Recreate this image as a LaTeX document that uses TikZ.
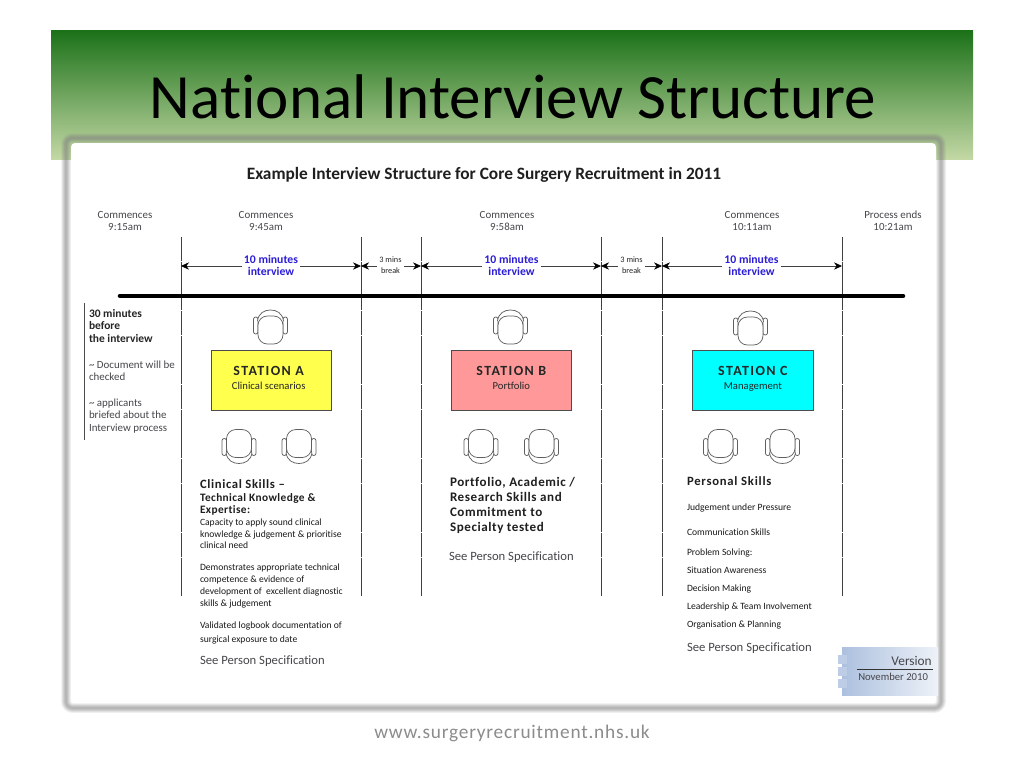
\documentclass[tikz,border=0pt]{standalone}
\usepackage{fontspec}
\setmainfont[Ligatures=NoCommon]{Carlito}
\usetikzlibrary{arrows.meta}
\newcommand{\fsz}[2]{\fontsize{#1}{#2}\selectfont}
\newcommand{\spaced}[1]{\addfontfeature{LetterSpace=#1}}
\newcommand{\stationtitle}{\bfseries\fsz{10.5}{11}\spaced{10}}
\definecolor{txtgray}{RGB}{70,70,75}
\definecolor{chairgray}{RGB}{95,95,95}
\definecolor{linkblue}{RGB}{45,30,215}
\definecolor{bandtop}{RGB}{27,113,24}
\definecolor{bandbot}{RGB}{195,216,165}
\definecolor{stya}{RGB}{255,255,77}
\definecolor{styb}{RGB}{255,153,153}
\definecolor{styc}{RGB}{0,255,255}
\definecolor{verl}{RGB}{172,192,222}
\definecolor{verr}{RGB}{238,242,248}
\definecolor{vertab}{RGB}{190,205,230}
\tikzset{
  x=0.75pt,y=-0.75pt,
  tl/.style={anchor=north west,inner sep=0pt,outer sep=0pt,align=left},
  tc/.style={anchor=center,inner sep=0pt,outer sep=0pt,align=center},
  when/.style={tc,text=txtgray,font=\fsz{8.2}{9.2}},
  bluelab/.style={tc,fill=white,inner xsep=1.5pt,inner ysep=0pt,text=linkblue,font=\bfseries\fsz{8.8}{9.6}},
  breaklab/.style={tc,fill=white,inner xsep=1.5pt,inner ysep=0pt,text=black!85,font=\fsz{6.2}{8.5}},
  stationbox/.style={draw=black!70,line width=0.8pt,minimum width=90.5pt,minimum height=45.5pt,inner sep=0pt,anchor=north west,align=center,text=black!85,text depth=3pt},
  bar/.style={draw=black!75,line width=0.75pt,dash pattern=on 18pt off 0.5pt},
  span/.style={draw=black!75,line width=0.6pt,{Stealth[length=6pt,width=5.5pt,black]}-{Stealth[length=6pt,width=5.5pt,black]}},
  head/.style={tl,text=black!88,font=\bfseries\fsz{9.5}{10.6}\spaced{5}},
  body/.style={tl,text=black!90,font=\fsz{7.2}{8.9}},
  seespec/.style={tl,text=txtgray,font=\fsz{9.5}{10}},
  chairline/.style={draw=chairgray,line width=0.55pt,fill=white},
  chairtop/.pic={
    \draw[chairline,rounded corners=1.6pt] (-17,-10) rectangle (-12.5,7);
    \draw[chairline,rounded corners=1.6pt] (12.5,-10) rectangle (17,7);
    \draw[chairline] (-13,-6) .. controls (-12,-14) and (-6,-17) .. (0,-17) .. controls (6,-17) and (12,-14) .. (13,-6);
    \draw[chairline,rounded corners=7pt] (-12.5,-11) -- (12.5,-11) -- (12.5,17) -- (-12.5,17) -- cycle;
  },
  chairlow/.pic={
    \draw[chairline,rounded corners=1.6pt] (-17,-8) rectangle (-12.5,9);
    \draw[chairline,rounded corners=1.6pt] (12.5,-8) rectangle (17,9);
    \draw[chairline] (-13,6) .. controls (-12,14) and (-6,17) .. (0,17) .. controls (6,17) and (12,14) .. (13,6);
    \draw[chairline,rounded corners=7pt] (-12.5,11) -- (12.5,11) -- (12.5,-17) -- (-12.5,-17) -- cycle;
  },
}
\begin{document}
\begin{tikzpicture}
\useasboundingbox (0,0) rectangle (1024,768);
\fill[white] (0,0) rectangle (1024,768);
% header band
\shade[top color=bandtop,bottom color=bandbot] (51,30) rectangle (973,159);
\node[anchor=base,inner sep=0pt] (title) at (513,118) {\fsz{47.3}{50}National Interview Structure};
% frame with soft shadow
\foreach \w/\o in {10/0.1,8/0.14,6/0.16,4/0.18,2/0.18}
  \draw[black!50,line width=\w*0.75pt,rounded corners=5pt,opacity=\o] (66,138) rectangle (941,708);
\fill[white,rounded corners=3pt] (71,143) rectangle (936,703);
% texts at the top
\node[tc,text=black!88,font=\bfseries\fsz{13}{14}] (head) at (484,175) {Example Interview Structure for Core Surgery Recruitment in 2011};
\node[when] (t1) at (125,221) {Commences\\9:15am};
\node[when] (t2) at (266,221) {Commences\\9:45am};
\node[when] (t3) at (507,221) {Commences\\9:58am};
\node[when] (t4) at (752,221) {Commences\\10:11am};
\node[when] (t5) at (893,221) {Process ends\\10:21am};
% vertical bars
\foreach \n/\x in {a/181,b/361,c/421,d/601,e/662,f/842}{
  \coordinate (\n-top) at (\x,237);
  \coordinate (\n-bot) at (\x,596);
  \coordinate (\n-mid) at (\x,266);
  \draw[bar] (\n-top) -- (\n-bot);
}
\coordinate (ruleL) at (120,296);
\coordinate (ruleR) at (903,296);
\draw[black,line width=3.4pt,line cap=round] (ruleL) -- (ruleR);
% spans
\draw[span] (a-mid) -- (b-mid);
\draw[span] (b-mid) -- (c-mid);
\draw[span] (c-mid) -- (d-mid);
\draw[span] (d-mid) -- (e-mid);
\draw[span] (e-mid) -- (f-mid);
\node[bluelab] (i1) at (271,265.5) {10 minutes\\interview};
\node[bluelab] (i2) at (511.5,265.5) {10 minutes\\interview};
\node[bluelab] (i3) at (751.5,265.5) {10 minutes\\interview};
\node[breaklab] (b1) at (390.5,265.5) {3 mins\\break};
\node[breaklab] (b2) at (631.5,265.5) {3 mins\\break};
% left column
\coordinate (leftT) at (84,303);
\coordinate (leftB) at (84,440);
\draw[black!70,line width=0.75pt] (leftT) -- (leftB);
\node[tl,text=black!85,font=\bfseries\fsz{8.6}{9.5}] (l1) at (89,309) {30 minutes\\before\\the interview};
\node[tl,text=txtgray,font=\fsz{8.2}{9.5}] (l2) at (89,360.5) {\textasciitilde\ Document will be\\checked};
\node[tl,text=txtgray,font=\fsz{8.2}{9.5}] (l3) at (89,398.5) {\textasciitilde\ applicants\\briefed about the\\Interview process};
% stations
\node[stationbox,fill=stya] (sa) at (210.5,349.5) {\raisebox{1.2pt}{\stationtitle STATION A\hspace*{4pt}}\\[-1.5pt]\raisebox{1pt}{\fsz{8}{9}Clinical scenarios\hspace*{4pt}}};
\node[stationbox,fill=styb] (sb) at (450.5,349.5) {\raisebox{1.2pt}{\stationtitle STATION B}\\[-1.5pt]\raisebox{1pt}{\fsz{8}{9}Portfolio}};
\node[stationbox,fill=styc] (sc) at (692,349.5) {\raisebox{1.2pt}{\stationtitle STATION C}\\[-1.5pt]\raisebox{1pt}{\fsz{8}{9}Management}};
% chairs
\pic at (270.5,327) {chairtop};
\pic at (510.5,327) {chairtop};
\pic at (750.5,328) {chairtop};
\foreach \x in {239,299,481,541.5,720.5,782.5} \pic at (\x,446.5) {chairlow};
% station A text
\node[head] (a1) at (200,479.5) {Clinical Skills --};
\node[head,font=\bfseries\fsz{8.5}{9.2}\spaced{3.5}] (a2) at (200,493.5) {Technical Knowledge \&\\Expertise:};
\node[body,font=\fsz{7.2}{8.7}] (a3) at (200,519) {Capacity to apply sound clinical\\knowledge \& judgement \& prioritise\\clinical need};
\node[body] (a4) at (200,564) {Demonstrates appropriate technical\\competence \& evidence of\\development of\ \ excellent diagnostic\\skills \& judgement};
\node[body,font=\fsz{7.2}{10.5}] (a5) at (200,622) {Validated logbook documentation of\\surgical exposure to date};
\node[seespec] (a6) at (200,655.5) {See Person Specification};
% station B text
\node[head,font=\bfseries\fsz{9.8}{11.3}\spaced{4.4}] (b3) at (450,477.5) {Portfolio, Academic /\\Research Skills and\\Commitment to\\Specialty tested};
\node[seespec] (b4) at (449,551.5) {See Person Specification};
% station C text
\node[head,font=\bfseries\fsz{9.5}{10.6}\spaced{6}] (c1) at (687,477) {Personal Skills};
\node[body] (c2) at (687,504) {Judgement under Pressure};
\node[body] (c3) at (687,528.5) {Communication Skills};
\node[body] (c4) at (687,549) {Problem Solving:};
\node[body] (c5) at (687,567) {Situation Awareness};
\node[body] (c6) at (687,585) {Decision Making};
\node[body] (c7) at (687,602.5) {Leadership \& Team Involvement};
\node[body] (c8) at (687,620.5) {Organisation \& Planning};
\node[seespec] (c9) at (687,642.5) {See Person Specification};
% version block
\shade[left color=verl,right color=verr] (842,647) rectangle (938,695);
\foreach \y in {655,667,679} \fill[vertab] (838,\y) rectangle (847,\y+8.5);
\coordinate (verL) at (857,669);
\coordinate (verR) at (933,669);
\draw[black!80,line width=0.7pt] (verL) -- (verR);
\node[anchor=base east,inner sep=0pt,text=txtgray,font=\fsz{10}{11}] (v1) at (932,665) {Version};
\node[anchor=base west,inner sep=0pt,text=txtgray,font=\fsz{8}{10}] (v2) at (858,680) {November 2010};
% footer
\node[tc,text=black!45,font=\fsz{14.5}{15}\spaced{4}] (foot) at (512,733) {www.surgeryrecruitment.nhs.uk};
\end{tikzpicture}
\end{document}
